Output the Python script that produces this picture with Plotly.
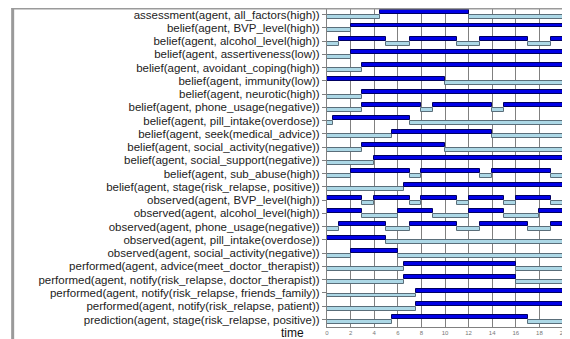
import plotly.graph_objects as go

labels = [
    "assessment(agent, all_factors(high))",
    "belief(agent, BVP_level(high))",
    "belief(agent, alcohol_level(high))",
    "belief(agent, assertiveness(low))",
    "belief(agent, avoidant_coping(high))",
    "belief(agent, immunity(low))",
    "belief(agent, neurotic(high))",
    "belief(agent, phone_usage(negative))",
    "belief(agent, pill_intake(overdose))",
    "belief(agent, seek(medical_advice))",
    "belief(agent, social_activity(negative))",
    "belief(agent, social_support(negative))",
    "belief(agent, sub_abuse(high))",
    "belief(agent, stage(risk_relapse, positive))",
    "observed(agent, BVP_level(high))",
    "observed(agent, alcohol_level(high))",
    "observed(agent, phone_usage(negative))",
    "observed(agent, pill_intake(overdose))",
    "observed(agent, social_activity(negative))",
    "performed(agent, advice(meet_doctor_therapist))",
    "performed(agent, notify(risk_relapse, doctor_therapist))",
    "performed(agent, notify(risk_relapse, friends_family))",
    "performed(agent, notify(risk_relapse, patient))",
    "prediction(agent, stage(risk_relapse, positive))",
]

true_intervals = [
    [(4.5, 12)],
    [(2, 20)],
    [(1, 5), (7, 11), (13, 17), (19, 20)],
    [(2, 20)],
    [(3, 20)],
    [(0, 10)],
    [(3, 20)],
    [(3, 8), (9, 14), (15, 20)],
    [(0.5, 7)],
    [(5.5, 14)],
    [(3, 10)],
    [(4, 20)],
    [(2, 7), (8, 13), (14, 19)],
    [(6.5, 20)],
    [(0, 3), (4, 7), (8, 11), (12, 15), (16, 19)],
    [(0, 3), (6, 9), (12, 15), (18, 20)],
    [(1, 5), (7, 11), (13, 17), (19, 20)],
    [(0, 5)],
    [(2, 6)],
    [(6.5, 16)],
    [(6.5, 16)],
    [(7.5, 20)],
    [(7.5, 20)],
    [(5.5, 17)],
]

t_start, t_end = 0, 20
x_ticks = list(range(0, 21, 2))

n = len(labels)
ypos = [n - 1 - i for i in range(n)]

t_y, t_base, t_len = [], [], []
f_y, f_base, f_len = [], [], []
for i, ivs in enumerate(true_intervals):
    y = ypos[i]
    cur = t_start
    for a, b in ivs:
        if a > cur:
            f_y.append(y); f_base.append(cur); f_len.append(a - cur)
        t_y.append(y); t_base.append(a); t_len.append(b - a)
        cur = b
    if cur < t_end:
        f_y.append(y); f_base.append(cur); f_len.append(t_end - cur)

fig = go.Figure()
fig.add_trace(go.Bar(
    orientation="h", y=f_y, x=f_len, base=f_base,
    width=0.3, offset=-0.34,
    marker=dict(color="#add8e6", line=dict(color="#5a6e7a", width=1)),
    showlegend=False, hoverinfo="skip",
))
fig.add_trace(go.Bar(
    orientation="h", y=t_y, x=t_len, base=t_base,
    width=0.3, offset=0.02,
    marker=dict(color="#0000e6", line=dict(color="#000060", width=1)),
    showlegend=False, hoverinfo="skip",
))

# page is offset by the default 8px body margin
OFF = 8
W, H = 570 - OFF, 339 - OFF
L, R, T, B = 318.7, 6.5, 0, 12
pw = W - L - R
ph = H - T - B

fig.update_layout(
    width=W, height=H,
    margin=dict(l=L, r=R, t=T, b=B, pad=0),
    paper_bgcolor="white", plot_bgcolor="white",
    barmode="overlay", bargap=0,
    font=dict(family="Liberation Sans, Arial, sans-serif"),
    xaxis=dict(
        range=[t_start, t_end], tickvals=x_ticks, ticktext=[str(v) for v in x_ticks],
        showgrid=True, gridcolor="#808080", gridwidth=1,
        tickfont=dict(size=6, color="#777777"),
        showline=True, linecolor="#808080", linewidth=1, mirror=True,
        zeroline=False, ticks="", fixedrange=True, automargin=False,
        ticklabeloverflow="allow",
    ),
    yaxis=dict(
        range=[-0.566, n - 1 + 0.49],
        tickvals=ypos, ticktext=labels,
        tickfont=dict(size=11.5, color="#222222"),
        ticks="outside", ticklen=4, tickcolor="#808080",
        showgrid=False, zeroline=False,
        showline=True, linecolor="#808080", linewidth=1,
        fixedrange=True, automargin=False,
        ticklabeloverflow="allow",
    ),
    shapes=[
        dict(type="line", xref="paper", yref="paper",
             x0=(3.3 - L) / pw, x1=(3.3 - L) / pw, y0=1, y1=-B / ph - 0.1,
             line=dict(color="#9a9a9a", width=3)),
        dict(type="line", xref="paper", yref="paper",
             x0=(2 - L) / pw, x1=1 + R / pw + 0.1, y0=1 - 0.5 / ph, y1=1 - 0.5 / ph,
             line=dict(color="#9a9a9a", width=2)),
    ],
    annotations=[
        dict(text="time", xref="paper", yref="paper",
             x=(298 - L) / pw, y=(H - 325 - B) / ph, xanchor="right", yanchor="middle",
             showarrow=False, font=dict(size=12, color="#111111")),
    ],
)

fig.write_html("out.html")
